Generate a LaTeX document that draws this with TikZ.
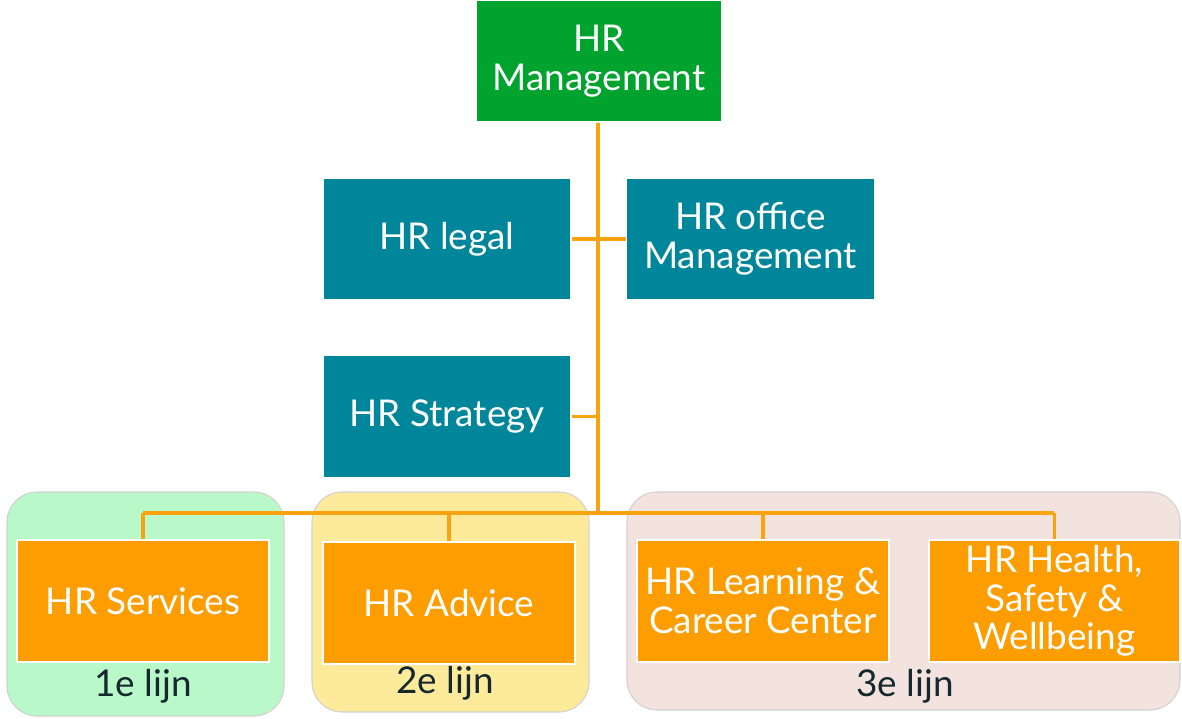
\documentclass[tikz,border=0pt]{standalone}
\usepackage{fontspec}
\setmainfont{Lato}
\definecolor{hrgreen}{HTML}{00A32E}
\definecolor{hrteal}{HTML}{00869B}
\definecolor{hrorange}{HTML}{FD9D00}
\definecolor{hrline}{HTML}{FBA30F}
\definecolor{bgone}{HTML}{B9F8C9}
\definecolor{bgtwo}{HTML}{FDEB9B}
\definecolor{bgthree}{HTML}{F3E3DF}
\definecolor{lijntext}{HTML}{14282E}
\tikzset{
    unit/.style={draw=white, line width=0.8pt, text=white, align=center,
        inner sep=0pt, minimum width=4.96cm, minimum height=2.44cm,
        font=\fontsize{21}{22}\selectfont},
    mgmtbox/.style={unit, fill=hrgreen, minimum width=4.92cm},
    staffbox/.style={unit, fill=hrteal},
    linebox/.style={unit, fill=hrorange, minimum width=5.04cm},
    lijnbg/.style={draw=black!18, line width=0.6pt, rounded corners=0.6cm},
    lijnlabel/.style={text=lijntext, inner sep=0pt,
        font=\fontsize{21}{22}\selectfont},
    wire/.style={draw=hrline, line width=2.2pt}
}
\begin{document}
\begin{tikzpicture}[x=0.02cm, y=-0.02cm]
    \useasboundingbox (0,0) rectangle (1182,719);

    % achtergrond per lijn
    \filldraw[lijnbg, fill=bgone] (7,492) rectangle (284,716);
    \filldraw[lijnbg, fill=bgtwo] (312,492) rectangle (589,712);
    \filldraw[lijnbg, fill=bgthree] (627,492) rectangle (1180,710);

    \node[mgmtbox] (mgmt) at (599,61) {HR\\Management};
    \node[staffbox] (legal) at (447,239) {HR legal};
    \node[staffbox] (office) at (750.5,239) {HR office\\Management};
    \node[staffbox] (strategy) at (447,416.5) {HR Strategy};

    \node[linebox] (services) at (143,601) {HR Services};
    \node[linebox] (advice) at (449,603) {HR Advice};
    \node[linebox] (learning) at (763,601) {HR Learning \&\\Career Center};
    \node[linebox, minimum width=5.02cm] (health) at (1054.5,601)
        {HR Health,\\Safety \&\\Wellbeing};

    \node[lijnlabel] (lijn1) at (143,686) {1e lijn};
    \node[lijnlabel] (lijn2) at (445,683) {2e lijn};
    \node[lijnlabel] (lijn3) at (905,686) {3e lijn};

    \coordinate (bus) at (598,513);
    \coordinate (busleft) at (143,513);
    \coordinate (busright) at (1054,513);

    % verbindingen
    \draw[wire] (mgmt.south -| bus) -- (bus);
    \draw[wire] (legal.east) -- (office.west);
    \draw[wire] (strategy.east) -- (strategy.east -| bus);
    \draw[wire] (busleft) -- (busright);
    \foreach \n in {services,advice,learning,health}
        \draw[wire] (\n.north) -- (\n.north |- bus);
\end{tikzpicture}
\end{document}
